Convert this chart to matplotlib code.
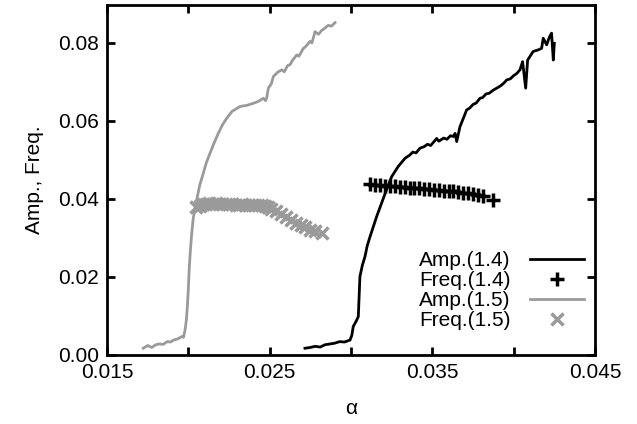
import matplotlib
matplotlib.use("Agg")
import matplotlib.pyplot as plt

# ---- data ----
amp15_x = [0.01723, 0.0175, 0.01775, 0.0180, 0.0182, 0.01845, 0.0187, 0.0189, 0.0191, 0.01935,
           0.0196, 0.0197, 0.0198, 0.01988, 0.01994, 0.0200, 0.02006, 0.02013, 0.02021, 0.0203,
           0.02051, 0.0207, 0.02092, 0.0211, 0.02133, 0.0216, 0.02184, 0.0221, 0.02236, 0.0227,
           0.02318, 0.0236, 0.02399, 0.0243, 0.02461, 0.02475, 0.02482, 0.02492, 0.0251, 0.02523,
           0.0255, 0.02574, 0.0259, 0.0261, 0.02625, 0.0264, 0.02666, 0.0268, 0.02707, 0.0272,
           0.02748, 0.0276, 0.02779, 0.0280, 0.0282, 0.0284, 0.0286, 0.0288, 0.02902]
amp15_y = [0.0017, 0.0024, 0.0019, 0.0026, 0.0028, 0.0027, 0.0034, 0.0033, 0.0038, 0.0041,
           0.0047, 0.0045, 0.0064, 0.0090, 0.0124, 0.0170, 0.0226, 0.0270, 0.0312, 0.0350,
           0.0397, 0.0435, 0.0466, 0.0492, 0.0517, 0.0545, 0.0568, 0.0590, 0.0607, 0.0625,
           0.0637, 0.0640, 0.0645, 0.0650, 0.0658, 0.0652, 0.0660, 0.0684, 0.0695, 0.0714,
           0.0725, 0.0731, 0.0726, 0.0742, 0.0744, 0.0755, 0.0769, 0.0766, 0.0786, 0.0790,
           0.0804, 0.0800, 0.0829, 0.0822, 0.0832, 0.0838, 0.0845, 0.0843, 0.0852]

amp14_x = [0.02717, 0.0275, 0.0278, 0.0281, 0.0284, 0.0287, 0.0290, 0.0293, 0.0296, 0.02994,
           0.03005, 0.03014, 0.0303, 0.03045, 0.0305, 0.03055, 0.0307, 0.03086, 0.0310, 0.03117,
           0.03158, 0.0321, 0.0325, 0.0329, 0.03332, 0.0336, 0.0338, 0.0340, 0.03424, 0.0345,
           0.0347, 0.0349, 0.03527, 0.0354, 0.0357, 0.0359, 0.03612, 0.03629, 0.0364, 0.0365,
           0.0367, 0.03711, 0.0373, 0.0375, 0.0377, 0.03793, 0.0381, 0.0383, 0.0385, 0.03875,
           0.0390, 0.0392, 0.0394, 0.03957, 0.0398, 0.0400, 0.0402, 0.04039, 0.04055, 0.04074,
           0.04086, 0.0412, 0.0415, 0.04172, 0.04182, 0.04203, 0.0422, 0.04233, 0.04244, 0.0425]
amp14_y = [0.0017, 0.0019, 0.0022, 0.0020, 0.0026, 0.0028, 0.0030, 0.0034, 0.0033, 0.0038,
           0.0050, 0.0073, 0.0085, 0.0098, 0.0150, 0.0201, 0.0230, 0.0252, 0.0280, 0.0303,
           0.0355, 0.0414, 0.0457, 0.0483, 0.0504, 0.0512, 0.0520, 0.0518, 0.0530, 0.0534,
           0.0540, 0.0537, 0.0555, 0.0548, 0.0556, 0.0553, 0.0562, 0.0560, 0.0568, 0.0547,
           0.0585, 0.0628, 0.0633, 0.0642, 0.0646, 0.0658, 0.0660, 0.0669, 0.0671, 0.0679,
           0.0685, 0.0690, 0.0697, 0.0705, 0.0708, 0.0716, 0.0722, 0.0731, 0.0752, 0.0684,
           0.0756, 0.0778, 0.0782, 0.0786, 0.0812, 0.0795, 0.0815, 0.0825, 0.0756, 0.0799]

freq14_x = [0.03117, 0.0315, 0.0318, 0.0321, 0.0324, 0.0327, 0.0330, 0.0333, 0.0336, 0.0339,
            0.0342, 0.0345, 0.0348, 0.0351, 0.0354, 0.0357, 0.0360, 0.0363, 0.0366, 0.0369,
            0.0372, 0.0375, 0.0378, 0.0381, 0.03875]
freq14_y = [0.0437, 0.0436, 0.0436, 0.0434, 0.0433, 0.0432, 0.0431, 0.0430, 0.0428, 0.0428,
            0.0427, 0.0426, 0.0425, 0.0424, 0.0422, 0.0421, 0.0420, 0.0419, 0.0417, 0.0416,
            0.0414, 0.0413, 0.0411, 0.0407, 0.0398]

freq15_x = [0.0205, 0.0207, 0.0209, 0.0211, 0.0213, 0.0215, 0.0217, 0.0219, 0.0221, 0.0223,
            0.0225, 0.0227, 0.0229, 0.0231, 0.0233, 0.0235, 0.0237, 0.0239, 0.0241, 0.0243,
            0.0245, 0.0247, 0.0249, 0.0251, 0.0254, 0.0257, 0.0260, 0.0263, 0.0266, 0.0269,
            0.0272, 0.0275, 0.0278, 0.0282]
freq15_y = [0.0380, 0.0383, 0.0388, 0.0386, 0.0390, 0.0388, 0.0389, 0.0387, 0.0387, 0.0386,
            0.0386, 0.0386, 0.0385, 0.0385, 0.0386, 0.0385, 0.0385, 0.0385, 0.0385, 0.0385,
            0.0384, 0.0383, 0.0380, 0.0374, 0.0368, 0.0362, 0.0354, 0.0346, 0.0339, 0.0332,
            0.0328, 0.0320, 0.0318, 0.0312]

xticks = [0.015, 0.020, 0.025, 0.030, 0.035, 0.040, 0.045]
xtick_labels = ["0.015", "", "0.025", "", "0.035", "", "0.045"]
yticks = [0.00, 0.02, 0.04, 0.06, 0.08]
ytick_labels = ["0.00", "0.02", "0.04", "0.06", "0.08"]
labels = ["Amp.(1.4)", "Freq.(1.4)", "Amp.(1.5)", "Freq.(1.5)"]

# ---- plot ----
plt.rcParams['font.family'] = ['Liberation Sans', 'DejaVu Sans']
GRAY = '#9a9a9a'
fig = plt.figure(figsize=(6.37, 4.24), dpi=100)
ax = fig.add_axes([0.168, 0.163, 0.766, 0.825])

ax.plot(amp14_x, amp14_y, color='black', lw=2, label=labels[0])
ax.plot(freq14_x, freq14_y, ls='none', marker='+', ms=10, mew=2.5, color='black', label=labels[1])
ax.plot(amp15_x, amp15_y, color=GRAY, lw=2, label=labels[2])
ax.plot(freq15_x, freq15_y, ls='none', marker='x', ms=8, mew=2.5, color=GRAY, label=labels[3])

ax.set_xlim(0.015, 0.045)
ax.set_ylim(0.0, 0.0897)
ax.set_xticks(xticks)
ax.set_xticklabels(xtick_labels)
ax.set_yticks(yticks)
ax.set_yticklabels(ytick_labels)
ax.tick_params(direction='in', top=True, right=True, length=6, width=2, labelsize=15, pad=6)
for s in ax.spines.values():
    s.set_linewidth(2)

ax.set_xlabel('α', fontsize=15, labelpad=12)
ax.set_ylabel('Amp., Freq.', fontsize=15, labelpad=10)

ax.legend(loc='lower right', bbox_to_anchor=(1.004, 0.034), frameon=False, markerfirst=False,
          fontsize=15, handlelength=2.6, labelspacing=0.05, handletextpad=0.95,
          borderaxespad=0.2)

fig.savefig('out.png', dpi=100)
